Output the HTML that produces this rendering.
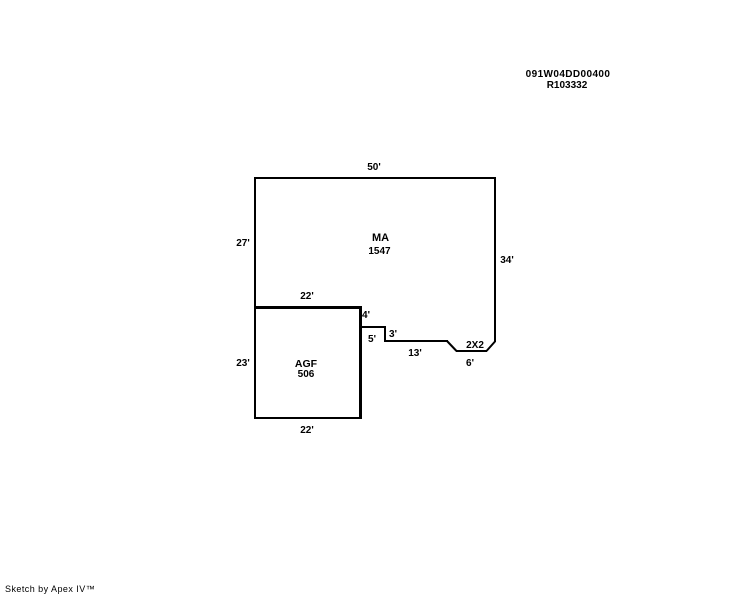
<!DOCTYPE html>
<html>
<head>
<meta charset="utf-8">
<style>
html,body{margin:0;padding:0;background:#fff;}
svg{display:block;}
text{font-family:"Liberation Sans",sans-serif;font-size:10px;font-weight:bold;fill:#000;text-anchor:middle;}
</style>
</head>
<body>
<svg width="744" height="595" viewBox="0 0 744 595" xmlns="http://www.w3.org/2000/svg">
<rect width="744" height="595" fill="#fff"/>
<g fill="#000" shape-rendering="crispEdges">
<rect x="254" y="177" width="242" height="2"/>
<rect x="254" y="177" width="2" height="242"/>
<rect x="494" y="177" width="2" height="165"/>
<rect x="254" y="306" width="108" height="3"/>
<rect x="359" y="306" width="3" height="113"/>
<rect x="254" y="417" width="108" height="2"/>
<rect x="360" y="326" width="26" height="2"/>
<rect x="384" y="326" width="2" height="16"/>
<rect x="384" y="340" width="64" height="2"/>
<rect x="456" y="350" width="31" height="2"/>
</g>
<g fill="none" stroke="#000" stroke-width="2">
<path d="M447 341L456.500 351"/>
<path d="M486.500 351L495 341.500"/>
</g>
<text x="374" y="170">50'</text>
<text x="243" y="246">27'</text>
<text x="507" y="263">34'</text>
<text x="307" y="299">22'</text>
<text x="366" y="318">4'</text>
<text x="393" y="337">3'</text>
<text x="372" y="342">5'</text>
<text x="415" y="356">13'</text>
<text x="475" y="348">2X2</text>
<text x="470" y="366">6'</text>
<text x="243" y="366">23'</text>
<text x="307" y="433">22'</text>
<text x="380.500" y="241" style="font-size:11px">MA</text>
<text x="379.500" y="254">1547</text>
<text x="306" y="367" style="font-size:10.500px">AGF</text>
<text x="306" y="377">506</text>
<text x="568" y="77" style="letter-spacing:.4px">091W04DD00400</text>
<text x="567" y="88">R103332</text>
<text x="5" y="592" style="text-anchor:start;font-weight:normal;font-size:9px;letter-spacing:.45px">Sketch by Apex IV™</text>
</svg>
</body>
</html>
